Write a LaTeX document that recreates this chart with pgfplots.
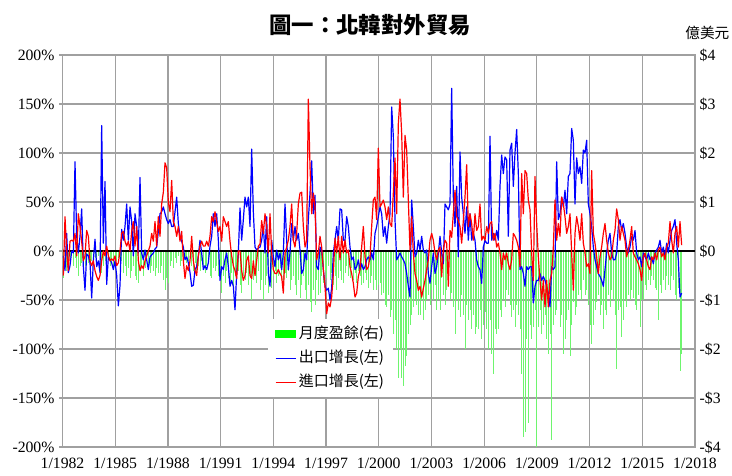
\documentclass[border=0pt]{standalone}
\usepackage{pgfplots}
\usepackage{pgfplotstable}
\pgfplotsset{compat=1.18}
\usepackage{fontspec}
\setmainfont{Liberation Serif}
\newfontfamily\cjk{Noto Sans CJK TC}
\definecolor{gridc}{RGB}{160,160,160}
\definecolor{barg}{RGB}{110,245,110}
\definecolor{legg}{RGB}{0,255,0}
\pgfplotstableread{
b r g
-5 -25 -0.55
-20 35 -0.3
18 0 -0.4
-22 -20 -0.2
-15 10 -0.25
0 11 -0.1
-2 10 -0.3
91 18 -0.15
15 -5 -0.35
-2 38 -0.5
15 25 -0.3
43 10 -0.25
-16 -10 -0.2
-40 -5 -0.3
-3 21 -0.15
-5 15 -0.25
-12 -10 -0.35
-48 -15 -0.2
-10 -10 -0.3
12 -20 -0.15
-16 -26 -0.2
-10 -30 -0.1
-22 -25 -0.4
128 -10 -0.45
8 0 -0.3
71 -5 -0.2
-34 5 -0.25
-6 -5 -0.1
-9 -10 -0.3
-12 -8 -0.2
-19 -10 -0.35
-10 -5 -0.15
-25 -15 -0.2
-56 -12 -0.15
-35 0 -0.3
22 18 -0.2
11 20 -0.45
25 10 -0.3
48 5 -0.5
11 10 -0.35
45 0 -0.55
30 20 -0.4
-5 30 -0.3
38 5 -0.5
25 25 -0.6
-2 -10 -0.65
75 -20 -0.4
-2 -15 -0.3
-9 -18 -0.5
1 -10 -0.35
-9 -5 -0.2
-19 0 -0.3
-6 5 -0.45
-4 18 -0.3
-2 10 -0.4
2 30 -0.5
4 5 -0.35
20 35 -0.45
38 15 -0.45
40 48 -0.3
45 60 -0.6
38 90 -0.8
32 85 -0.55
28 50 -0.65
32 40 -0.3
25 72 -0.2
25 30 -0.35
40 25 -0.15
55 15 -0.25
28 25 -0.1
15 10 -0.3
10 20 -0.2
4 -10 -0.3
-9 -28 -0.15
-6 -15 -0.25
-12 -20 -0.2
-22 -10 -0.1
-36 15 -0.3
-35 -10 -0.4
-19 -20 -0.25
-16 -25 -0.45
-5 -5 -0.3
11 5 -0.4
-2 10 -0.2
-19 5 -0.35
-15 5 -0.45
-19 10 -0.3
-12 5 -0.25
5 15 -0.5
15 35 -0.55
38 30 -0.35
25 40 -0.4
38 30 -0.3
11 20 -0.5
-30 25 -0.6
-16 10 -0.85
-19 35 -0.5
-9 30 -0.65
-2 25 -0.4
-16 30 -0.55
-36 10 -0.7
-30 -5 -0.45
-36 -15 -0.8
-60 -20 -0.5
-23 -28 -0.6
-2 0 -0.4
44 0 -0.7
11 -20 -0.85
32 -30 -0.5
55 -25 -0.6
45 -10 -0.45
55 -5 -0.7
25 -25 -0.55
104 -28 -1.0
40 -10 -0.6
4 -25 -0.5
1 -10 -0.65
3 5 -0.4
4 7 -0.8
11 31 -0.6
25 18 -1.0
-2 38 -0.7
35 25 -0.5
-23 -2 -0.85
-36 38 -0.6
11 -2 -0.75
-6 -19 -0.5
-16 -23 -0.4
1 -23 -0.65
-9 -19 -0.5
-2 -23 -0.35
-19 -26 -0.6
-2 -43 -0.75
48 -2 -0.45
11 4 -0.55
-19 11 -0.4
-2 25 -0.8
28 48 -0.6
11 11 -0.5
25 4 -0.7
11 18 -0.9
18 48 -0.6
1 59 -0.95
-23 60 -0.7
-19 25 -0.5
-2 4 -0.8
-9 11 -1.0
32 155 -0.7
59 86 -1.05
92 38 -1.25
38 59 -0.8
57 45 -1.1
-16 -9 -0.6
-19 -2 -0.9
4 15 -0.85
1 4 -0.5
-19 -19 -0.65
-36 -36 -0.4
-40 -64 -0.55
-38 -53 -0.3
-50 -57 -0.6
-38 -47 -0.45
-2 -23 -0.7
11 13 -0.5
25 -2 -0.8
11 15 -0.55
43 -9 -0.4
42 15 -0.6
11 -2 -0.65
11 11 -0.45
35 -2 -0.3
25 1 -0.5
4 -16 -0.55
-9 -23 -0.35
-6 -33 -0.6
-19 -47 -0.45
-16 -43 -0.65
-9 -26 -0.4
-19 -19 -0.5
-13 4 -0.7
-19 25 -0.65
-16 -6 -0.45
-9 -19 -0.6
-6 -16 -0.75
-9 -6 -0.65
-2 25 -0.5
-9 52 -0.8
18 55 -0.6
25 32 -0.8
35 105 -0.7
45 45 -0.65
38 48 -0.9
15 52 -0.85
25 45 -1.1
8 32 -1.15
25 45 -0.9
38 28 -1.35
147 25 -1.2
117 59 -1.7
32 95 -1.4
-9 38 -2.0
-6 130 -2.6
-2 155 -2.0
-6 120 -2.6
-9 55 -2.75
-13 118 -2.35
-23 103 -2.15
-36 52 -1.7
-47 1 -1.5
52 35 -1.3
25 -2 -1.15
-6 -23 -1.0
-2 -30 -1.1
11 -40 -1.3
1 -36 -1.3
15 -47 -1.0
1 -38 -1.4
-2 -30 -1.2
1 -19 -1.0
-23 -9 -0.9
-33 11 -1.1
-16 18 -0.8
-2 11 -1.0
-23 -2 -0.7
-16 -9 -1.2
-2 1 -1.0
15 4 -1.2
-2 -26 -0.55
-13 1 -0.9
48 11 -1.1
45 8 -0.8
42 -36 -0.65
48 21 -1.0
166 14 -0.85
55 38 -1.15
25 62 -1.7
66 35 -1.0
-6 31 -1.2
101 25 -1.35
55 8 -0.9
38 31 -1.3
18 55 -2.0
45 88 -1.1
11 25 -1.4
38 38 -1.2
11 28 -1.6
18 11 -1.3
11 38 -1.7
-9 21 -1.55
-16 25 -1.6
-19 48 -1.2
-33 11 -1.8
4 15 -1.5
11 11 -1.25
8 25 -1.6
8 18 -2.0
117 28 -1.4
11 30 -2.1
18 11 -2.5
11 18 -1.6
21 4 -1.7
11 8 -1.6
66 -2 -1.2
98 -19 -1.35
79 -2 -1.0
96 -9 -1.15
93 -2 -0.8
15 -13 -0.9
103 -19 -1.1
110 -9 -1.35
66 18 -1.2
100 15 -1.55
124 11 -1.1
79 4 -1.3
-19 -16 -1.6
-16 79 -2.5
-23 38 -3.8
-36 82 -3.7
-16 79 -1.8
-19 52 -3.5
-16 42 -1.5
-16 -2 -1.8
-53 -30 -1.55
-36 76 -1.2
-30 28 -4.0
-30 -6 -1.55
-23 -30 -1.2
-30 -50 -1.7
-26 -30 -1.5
-30 -57 -1.3
-36 -30 -1.8
-43 -57 -2.1
-57 -30 -1.7
-16 -23 -3.85
-19 4 -1.5
-16 52 -1.3
91 11 -1.2
32 28 -1.0
38 15 -1.55
55 55 -1.3
45 48 -2.1
62 35 -1.8
38 18 -1.4
76 25 -1.2
79 38 -2.15
125 -2 -1.5
113 -40 -1.05
48 18 -1.3
95 35 -1.15
79 25 -0.9
86 11 -0.8
69 38 -1.0
103 8 -0.6
100 -2 -0.9
113 -16 -0.8
48 -13 -1.1
38 -23 -1.5
25 82 -1.9
4 18 -1.5
-9 8 -1.2
-16 -6 -1.05
-23 -23 -0.9
-26 -6 -1.3
-30 4 -1.1
-36 18 -1.6
-19 28 -1.2
-2 11 -1.3
11 -2 -0.9
18 -9 -1.15
-2 -6 -0.8
-9 11 -1.0
-9 21 -1.3
-2 43 -2.4
25 32 -1.2
32 11 -1.15
21 25 -1.75
28 18 -1.4
18 11 -1.0
4 -6 -1.15
-2 1 -0.9
4 11 -1.0
15 25 -0.8
11 -2 -0.95
21 -6 -1.1
-2 -9 -1.2
-9 -13 -0.9
-6 -19 -1.55
-16 -30 -1.0
-2 -6 -1.0
-6 -2 -0.7
-9 -9 -0.8
-2 -16 -0.6
-9 -19 -0.7
-6 -6 -0.5
-13 -9 -0.6
-2 -2 -0.75
1 -9 -0.8
4 1 -1.4
11 4 -0.7
-2 -6 -0.85
4 -2 -0.6
-6 -9 -0.8
8 4 -0.5
-2 8 -0.7
11 30 -0.8
21 11 -0.5
25 -2 -0.6
32 18 -0.9
8 25 -1.0
-9 4 -0.75
-47 30 -2.45
-43 6 -2.1
}\trade
\begin{document}
\begin{tikzpicture}[x=1pt,y=1pt]
\useasboundingbox (0,0) rectangle (549,356.25);
% right axis: monthly surplus bars, grid, frame, x labels
\begin{axis}[
  at={(46.875pt,21pt)}, anchor=south west,
  width=474.375pt, height=294pt, scale only axis,
  xmin=1982, xmax=2018, ymin=-4, ymax=4,
  xtick={1982,1985,...,2018},
  xticklabels={1/1982,1/1985,1/1988,1/1991,1/1994,1/1997,1/2000,1/2003,1/2006,1/2009,1/2012,1/2015,1/2018},
  ytick={-4,-3,...,4},
  yticklabels={-\$4,-\$3,-\$2,-\$1,\$0,\$1,\$2,\$3,\$4},
  yticklabel pos=right,
  grid=major,
  major grid style={gridc, line width=0.9pt},
  axis line style={gridc, line width=0.9pt},
  major tick length=0pt,
  tick label style={font=\fontsize{11.8}{13}\selectfont},
  xticklabel style={yshift=-5pt},
  yticklabel style={xshift=0pt},
  clip=true,
]
\addplot[ycomb, barg, line width=0.75pt, mark=none] table[x expr=1982.048+0.09486*\coordindex, y=g]{\trade};
\end{axis}
% left axis: growth lines
\begin{axis}[
  at={(46.875pt,21pt)}, anchor=south west,
  width=474.375pt, height=294pt, scale only axis,
  xmin=1982, xmax=2018, ymin=-200, ymax=200,
  axis x line=none, axis y line*=left,
  axis line style={gridc, line width=0.9pt, -},
  ytick={-200,-150,...,200},
  yticklabels={-200\%,-150\%,-100\%,-50\%,0\%,50\%,100\%,150\%,200\%},
  tick style={gridc, line width=0.8pt},
  tick align=outside, major tick length=2.5pt,
  tick label style={font=\fontsize{11.8}{13}\selectfont},
  extra y ticks={0}, extra y tick labels={},
  extra y tick style={grid=major, major grid style={black, line width=0.8pt}, major tick length=0pt},
  legend style={at={(0.325,0.326)}, anchor=north west, draw=none, fill=white,
    font=\cjk\fontsize{11.25}{13}\selectfont, row sep=2pt, inner xsep=5pt, inner ysep=3pt,
    nodes={inner sep=2pt, text height=9.5pt, text depth=2.5pt}},
  legend cell align=left,
]
\addlegendimage{legend image code/.code={\fill[legg] (0pt,-2.6pt) rectangle (15pt,2.6pt);}}
\addlegendentry{月度盈餘(右)}
\addplot[blue, line width=0.9pt, line join=round, mark=none, legend image code/.code={\draw[blue, line width=0.9pt] (0pt,0pt) -- (15pt,0pt);}] table[x expr=1982.048+0.09486*\coordindex, y=b]{\trade};
\addlegendentry{出口增長(左)}
\addplot[red, line width=0.9pt, line join=round, mark=none, legend image code/.code={\draw[red, line width=0.9pt] (0pt,0pt) -- (15pt,0pt);}] table[x expr=1982.048+0.09486*\coordindex, y=r]{\trade};
\addlegendentry{進口增長(左)}
\end{axis}
\node[font=\cjk\bfseries\fontsize{16.8}{20}\selectfont] at (277.5,337.5) {圖一：北韓對外貿易};
\node[font=\cjk\fontsize{11}{13}\selectfont] at (530.5,331.5) {億美元};
\end{tikzpicture}
\end{document}
